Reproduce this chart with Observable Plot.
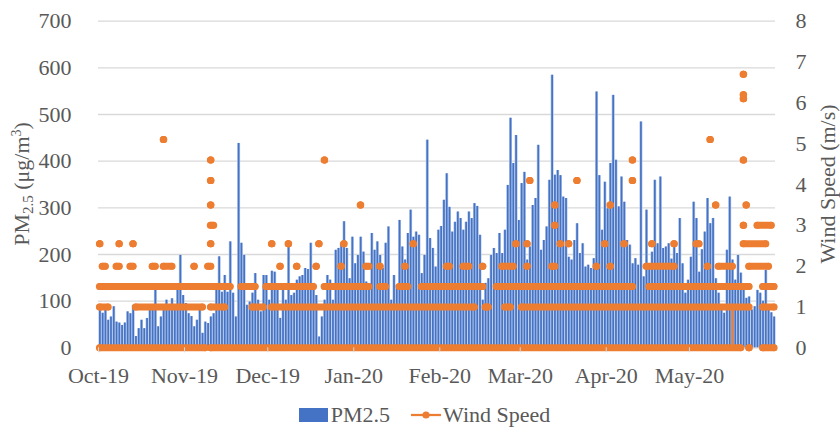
<!DOCTYPE html>
<html>
<head>
<meta charset="utf-8">
<script src="https://cdn.jsdelivr.net/npm/d3@7"></script>
<script src="https://cdn.jsdelivr.net/npm/@observablehq/plot@0.6"></script>
<style>
  body { margin: 0; background: #fff; font-family: "Liberation Serif", "DejaVu Serif", serif !important; }
  #chart svg { display: block; }
  #chart svg text { font-family: "Liberation Serif", "DejaVu Serif", serif !important; }
  #legend { display: flex; justify-content: center; align-items: center; height: 30px; padding-top: 8px; padding-left: 9px;
            font-family: "Liberation Serif", "DejaVu Serif", serif !important; font-size: 22px; color: #595959; }
  .item { display: flex; align-items: center; }
  .sw { display: inline-block; width: 29px; height: 14px; background: #4472C4; margin-right: 3px; }
</style>
</head>
<body>
<div id="chart"></div>
<div id="legend">
  <span class="item"><span class="sw"></span>PM2.5</span>
  <span class="item" style="margin-left:21px">
    <svg width="30" height="14" style="margin-right:2px"><line x1="0" y1="7" x2="30" y2="7" stroke="#ED7D31" stroke-width="2.25"/><circle cx="15" cy="7" r="3.6" fill="#ED7D31"/></svg>Wind Speed</span>
</div>
<script>
// ---- PM2.5 daily peaks (µg/m3) ----
const pmOct = [80,74,85,59,66,88,55,53,48,53,77,73,91,24,41,59,41,63,80,80,123,45,66,80,102,88,105,85,123,198,112];
const pmNov = [95,73,67,45,59,85,31,55,52,66,73,123,195,119,155,119,227,117,66,438,224,198,91,98,117,159,102,77,155,155];
const pmDec = [102,164,162,123,63,130,102,216,112,117,145,152,155,170,168,224,138,112,23,66,102,155,145,102,209,213,224,270,213,148,237];
const pmJan = [180,198,237,205,141,138,245,209,227,198,170,224,259,102,155,134,273,216,188,245,295,237,248,241,159,198,445,234,213,173,252];
const pmFeb = [260,316,373,301,248,269,291,277,252,269,291,277,309,303,241,102,138,148,198,213,202,245,202,252,348,492,395,455,273];
const pmMar = [352,376,188,216,305,320,434,209,230,259,359,584,370,380,369,323,320,194,188,230,266,202,223,173,177,170,191,548,369,252,355];
const pmApr = [298,395,541,402,302,366,312,230,220,180,191,177,484,152,295,180,205,359,223,366,213,216,223,190,216,202,277,180,117,145];
const pmMay = [194,312,277,162,210,248,320,266,277,148,117,90,74,209,323,188,145,198,160,123,106,109,81,88,123,117,100,166,88,75,66];

// ---- Wind speed (m/s): date spans where markers appear at each recorded level ----
const wind0   = [["2019-10-01","2019-11-08"],["2019-11-10","2020-05-19"],["2020-05-22","2020-05-22"],["2020-05-27","2020-05-31"]];
const wind1_0 = [["2019-10-01","2019-10-04"],["2019-10-14","2019-11-07"],["2019-11-10","2019-11-15"],["2019-11-25","2019-11-29"],
                 ["2019-12-02","2020-02-13"],["2020-02-17","2020-02-18"],["2020-02-24","2020-02-26"],["2020-03-01","2020-05-22"],["2020-05-27","2020-05-31"]];
const wind1_5 = [["2019-10-01","2019-11-17"],["2019-11-21","2019-11-26"],["2019-11-30","2019-12-17"],["2019-12-21","2020-01-06"],
                 ["2020-01-10","2020-01-12"],["2020-01-17","2020-01-20"],["2020-01-25","2020-02-16"],["2020-02-21","2020-04-10"],
                 ["2020-04-16","2020-05-22"],["2020-05-27","2020-05-31"]];
const wind2_0 = [["2019-10-02","2019-10-03"],["2019-10-07","2019-10-08"],["2019-10-12","2019-10-13"],["2019-10-20","2019-10-21"],
                 ["2019-10-24","2019-10-27"],["2019-11-04","2019-11-04"],["2019-11-09","2019-11-10"],["2019-12-05","2019-12-05"],
                 ["2019-12-11","2019-12-11"],["2019-12-18","2019-12-18"],["2019-12-27","2019-12-27"],["2020-01-05","2020-01-06"],
                 ["2020-01-10","2020-01-10"],["2020-01-19","2020-01-19"],["2020-02-03","2020-02-04"],["2020-02-09","2020-02-11"],
                 ["2020-02-16","2020-02-16"],["2020-02-23","2020-02-27"],["2020-03-03","2020-03-03"],["2020-03-12","2020-03-13"],
                 ["2020-03-28","2020-03-28"],["2020-04-02","2020-04-02"],["2020-04-15","2020-04-25"],["2020-05-07","2020-05-07"],
                 ["2020-05-11","2020-05-16"],["2020-05-22","2020-05-29"]];
const wind2_55 = [["2019-10-01","2019-10-01"],["2019-10-08","2019-10-08"],["2019-10-13","2019-10-13"],["2019-11-10","2019-11-10"],
                  ["2019-12-02","2019-12-02"],["2019-12-08","2019-12-08"],["2019-12-19","2019-12-19"],["2019-12-28","2019-12-28"],
                  ["2020-01-22","2020-01-22"],["2020-02-28","2020-02-28"],["2020-03-03","2020-03-03"],["2020-03-15","2020-03-15"],
                  ["2020-03-18","2020-03-18"],["2020-03-31","2020-03-31"],["2020-04-07","2020-04-07"],["2020-04-17","2020-04-17"],
                  ["2020-04-25","2020-04-25"],["2020-05-03","2020-05-04"],["2020-05-20","2020-05-28"]];
const wind3_0 = [["2019-11-10","2019-11-11"],["2020-03-13","2020-03-13"],["2020-05-20","2020-05-20"],["2020-05-25","2020-05-30"]];
const wind3_5 = [["2019-11-10","2019-11-10"],["2020-01-03","2020-01-03"],["2020-03-13","2020-03-13"],["2020-04-02","2020-04-02"],
                 ["2020-05-10","2020-05-10"],["2020-05-21","2020-05-21"]];
const wind4_1 = [["2019-11-10","2019-11-10"],["2020-03-04","2020-03-04"],["2020-03-21","2020-03-21"],["2020-04-10","2020-04-10"]];
const wind4_6 = [["2019-11-10","2019-11-10"],["2019-12-21","2019-12-21"],["2020-04-10","2020-04-10"],["2020-05-20","2020-05-20"]];
const wind5_1 = [["2019-10-24","2019-10-24"],["2020-05-08","2020-05-08"]];
const wind6_1 = [["2020-05-20","2020-05-20"]];
const wind6_2 = [["2020-05-20","2020-05-20"]];
const wind6_7 = [["2020-05-20","2020-05-20"]];
// visible connecting segment of the wind line
const windDrop = [{date: "2020-05-16", from: 1.0, to: 0}];

const monthTicks = ["2019-10-01","2019-11-01","2019-12-01","2020-01-01","2020-02-01","2020-03-01","2020-04-01","2020-05-01"];

// ---- build tables ----
const months = [[2019, 9, pmOct],[2019, 10, pmNov],[2019, 11, pmDec],[2020, 0, pmJan],[2020, 1, pmFeb],[2020, 2, pmMar],[2020, 3, pmApr],[2020, 4, pmMay]];
const pm = months.flatMap(([y, m, vals]) => vals.map((v, i) => ({date: new Date(Date.UTC(y, m, i + 1, 12)), value: v})));

const levels = [[0, wind0],[1.0, wind1_0],[1.5, wind1_5],[2.0, wind2_0],[2.55, wind2_55],[3.0, wind3_0],[3.5, wind3_5],
                [4.1, wind4_1],[4.6, wind4_6],[5.1, wind5_1],[6.1, wind6_1],[6.2, wind6_2],[6.7, wind6_7]];
const noon = s => new Date(s + "T12:00:00Z");
const windRuns = levels.flatMap(([speed, runs]) => runs.map(([a, b]) => ({speed, start: noon(a), end: noon(b)})));

const K = 700 / 8; // right axis (0–8 m/s) onto the left axis (0–700)
const BLUE = "#4472C4", ORANGE = "#ED7D31", GRID = "#d9d9d9";
const FONT = "'Liberation Serif', 'DejaVu Serif', serif";

const chart = Plot.plot({
  width: 840,
  height: 392,
  marginTop: 20.7,
  marginBottom: 44.7,
  marginLeft: 98,
  marginRight: 65,
  style: {fontFamily: FONT, fontSize: "22px", color: "#595959", background: "#fff"},
  x: {type: "utc", domain: [new Date("2019-10-01T00:00:00Z"), new Date("2020-06-01T00:00:00Z")]},
  y: {domain: [0, 700]},
  marks: [
    Plot.gridY(d3.range(0, 701, 100), {stroke: GRID, strokeOpacity: 1, strokeWidth: 1.3}),
    Plot.ruleX(pm, {x: "date", y1: 0, y2: "value", stroke: "#b4c7ea", strokeWidth: 3}),
    Plot.ruleX(pm, {x: "date", y1: 0, y2: "value", stroke: BLUE, strokeWidth: 1.7}),
    Plot.ruleX(windDrop, {x: d => noon(d.date), y1: d => d.to * K, y2: d => d.from * K, stroke: ORANGE, strokeWidth: 2.25}),
    Plot.ruleY(windRuns, {x1: "start", x2: "end", y: d => d.speed * K, stroke: ORANGE, strokeWidth: 7, strokeLinecap: "round"}),
    Plot.dot(windRuns, {x: "start", y: d => d.speed * K, r: 3.5, fill: ORANGE}),
    Plot.dot(windRuns, {x: "end", y: d => d.speed * K, r: 3.5, fill: ORANGE}),
    Plot.axisY(d3.range(0, 701, 100), {anchor: "left", tickSize: 0, tickPadding: 27, label: null, fontSize: 22, fontFamily: FONT}),
    Plot.axisY(d3.range(0, 9).map(v => v * K), {anchor: "right", tickSize: 0, tickPadding: 20, label: null, fontSize: 22, fontFamily: FONT,
      tickFormat: d => String(Math.round(d / K))}),
    Plot.axisX(monthTicks.map(s => new Date(s + "T00:00:00Z")), {anchor: "bottom", tickSize: 5, tickPadding: 15, label: null, fontSize: 22,
      fontFamily: FONT, stroke: GRID, tickFormat: d3.utcFormat("%b-%y")})
  ]
});
document.getElementById("chart").appendChild(chart);

// axis titles with sub/superscripts
const svg = d3.select(chart);
const lt = svg.append("text")
  .attr("transform", "translate(28.5,184) rotate(-90)")
  .attr("text-anchor", "middle").attr("fill", "#595959")
  .style("font-size", "22px");
lt.append("tspan").text("PM");
lt.append("tspan").attr("font-size", "15px").attr("dy", 4).text("2.5");
lt.append("tspan").attr("dy", -4).text(" (μg/m");
lt.append("tspan").attr("font-size", "14px").attr("dy", -8).text("3");
lt.append("tspan").attr("dy", 8).text(")");
svg.append("text")
  .attr("transform", "translate(835,184) rotate(-90)")
  .attr("text-anchor", "middle").attr("fill", "#595959")
  .style("font-size", "22px")
  .text("Wind Speed (m/s)");
</script>
</body>
</html>
